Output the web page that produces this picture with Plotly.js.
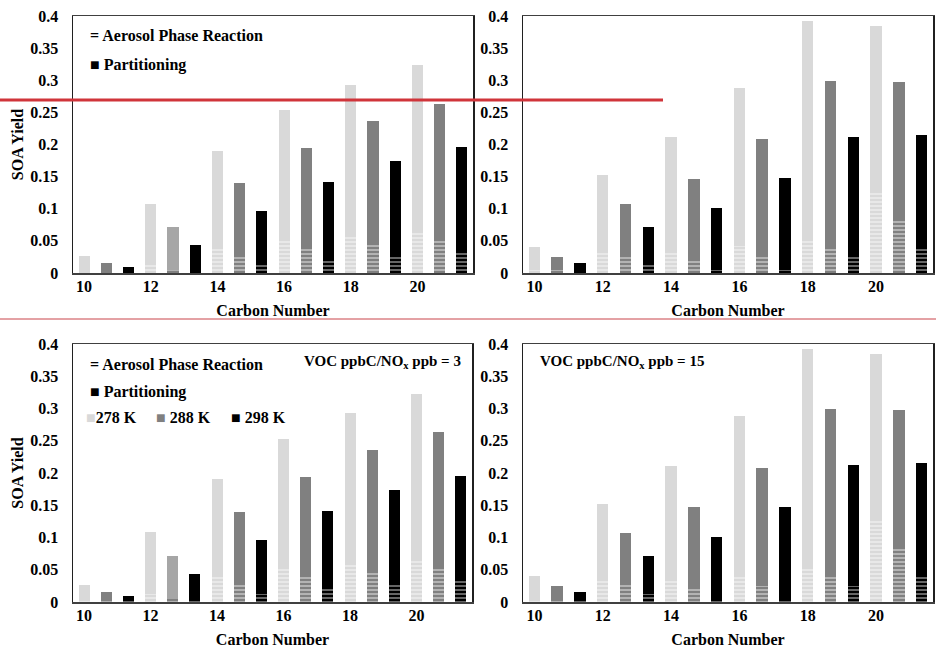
<!DOCTYPE html>
<html>
<head>
<meta charset="utf-8">
<script src="https://cdn.plot.ly/plotly-3.0.1.min.js"></script>
<style>html,body{margin:0;padding:0;background:#fff;}#chart{width:936px;height:649px;}</style>
</head>
<body>
<div id="chart"></div>
<script>
// ---- data ----
const carbonNumbers = [10, 12, 14, 16, 18, 20];
const temperatures = ['278 K', '288 K', '298 K'];
const yTickVals = [0, 0.05, 0.1, 0.15, 0.2, 0.25, 0.3, 0.35, 0.4];
const yTickText = ['0', '0.05', '0.1', '0.15', '0.2', '0.25', '0.3', '0.35', '0.4'];

// VOC ppbC/NOx ppb = 3 (left panels): total SOA yield and aerosol-phase-reaction part
const total3_278 = [0.027, 0.108, 0.190, 0.253, 0.293, 0.323];
const total3_288 = [0.016, 0.072, 0.140, 0.194, 0.236, 0.263];
const total3_298 = [0.009, 0.044, 0.096, 0.141, 0.174, 0.196];
const aero3_278 = [0.001, 0.012, 0.038, 0.052, 0.057, 0.064];
const aero3_288 = [0.002, 0.005, 0.026, 0.038, 0.045, 0.052];
const aero3_298 = [0.001, 0.001, 0.012, 0.020, 0.026, 0.033];

// VOC ppbC/NOx ppb = 15 (right panels)
const total15_278 = [0.040, 0.152, 0.211, 0.288, 0.392, 0.384];
const total15_288 = [0.025, 0.107, 0.147, 0.208, 0.299, 0.297];
const total15_298 = [0.015, 0.072, 0.101, 0.148, 0.212, 0.215];
const aero15_278 = [0.005, 0.032, 0.032, 0.042, 0.052, 0.128];
const aero15_288 = [0.004, 0.026, 0.020, 0.025, 0.038, 0.084];
const aero15_298 = [0.003, 0.012, 0.005, 0.004, 0.025, 0.038];

// ---- styling ----
const tempColors = ['#d9d9d9', '#808080', '#000000'];
const leftPart288Colors = ['#808080', '#a6a6a6', '#808080', '#808080', '#808080', '#808080'];
const FONT = 'Liberation Serif';
const W = 936, H = 649;
const px = v => v / W;
const py = v => 1 - v / H;

const panels = [
  {xa: 'x',  ya: 'y',  tot: [total3_278, total3_288, total3_298],  aero: [aero3_278, aero3_288, aero3_298],  left: true},
  {xa: 'x2', ya: 'y2', tot: [total15_278, total15_288, total15_298], aero: [aero15_278, aero15_288, aero15_298], left: false},
  {xa: 'x3', ya: 'y3', tot: [total3_278, total3_288, total3_298],  aero: [aero3_278, aero3_288, aero3_298],  left: true},
  {xa: 'x4', ya: 'y4', tot: [total15_278, total15_288, total15_298], aero: [aero15_278, aero15_288, aero15_298], left: false}
];

const traces = [];
panels.forEach(p => {
  temperatures.forEach((t, ti) => {
    const xs = carbonNumbers.map((c, ci) => ci * 3 + ti);
    const aero = p.aero[ti];
    const part = p.tot[ti].map((v, i) => +(v - aero[i]).toFixed(4));
    traces.push({
      type: 'bar', x: xs, y: aero, xaxis: p.xa, yaxis: p.ya, width: 0.5,
      name: t + ' Aerosol Phase Reaction', showlegend: false, hoverinfo: 'skip',
      marker: {color: tempColors[ti], line: {width: 0},
        pattern: {shape: '-', bgcolor: tempColors[ti], fgcolor: '#ffffff', size: 4, solidity: 0.4, fillmode: 'overlay'}}
    });
    const col = (p.left && ti === 1) ? leftPart288Colors : tempColors[ti];
    traces.push({
      type: 'bar', x: xs, y: part, xaxis: p.xa, yaxis: p.ya, width: 0.5,
      name: t + ' Partitioning', showlegend: false, hoverinfo: 'skip',
      marker: {color: col, line: {width: 0}}
    });
  });
});

const boldFont = {family: FONT, size: 16, color: '#000', weight: 'bold'};

function xAxis(x0, x1, anchor) {
  return {
    domain: [px(x0), px(x1)], anchor: anchor, range: [-0.5, 17.5],
    tickvals: carbonNumbers.map((c, i) => i * 3), ticktext: carbonNumbers.map(String),
    showgrid: false, zeroline: false, ticks: '', showline: true, mirror: true,
    linecolor: '#404040', linewidth: 1.5, automargin: false, ticklabelstandoff: -2,
    tickfont: boldFont,
    title: {text: 'Carbon Number', standoff: 11, font: boldFont}
  };
}
function yAxis(y0, y1, anchor, withTitle) {
  const ax = {
    domain: [py(y1), py(y0)], anchor: anchor, range: [0, 0.4],
    tickvals: yTickVals, ticktext: yTickText,
    showgrid: false, zeroline: false, ticks: '', showline: true, mirror: true,
    linecolor: '#202020', linewidth: 1.5, automargin: false, ticklabelstandoff: 10,
    tickfont: boldFont
  };
  if (withTitle) ax.title = {text: 'SOA Yield', standoff: 2, font: boldFont};
  return ax;
}

function ann(text, x, y, xanchor, size) {
  return {xref: 'paper', yref: 'paper', x: px(x), y: py(y), xanchor: xanchor || 'left', yanchor: 'middle',
    text: text, showarrow: false, font: Object.assign({}, boldFont, size ? {size: size} : {})};
}

const layout = {
  width: W, height: H, margin: {l: 0, r: 0, t: 0, b: 0},
  paper_bgcolor: '#ffffff', plot_bgcolor: '#ffffff',
  font: {family: FONT},
  barmode: 'stack', showlegend: false,
  xaxis: xAxis(73, 473, 'y'), yaxis: yAxis(16, 273, 'x', true),
  xaxis2: xAxis(523, 933, 'y2'), yaxis2: yAxis(16, 273, 'x2', false),
  xaxis3: xAxis(73, 472, 'y3'), yaxis3: yAxis(344, 602, 'x3', true),
  xaxis4: xAxis(523, 933, 'y4'), yaxis4: yAxis(344, 602, 'x4', false),
  annotations: [
    ann('= Aerosol Phase Reaction', 88, 36),
    ann('■ Partitioning', 88, 65),
    ann('= Aerosol Phase Reaction', 88, 364),
    ann('■ Partitioning', 88, 392),
    ann('<span style="color:#d9d9d9">■</span>278 K', 84, 418),
    ann('<span style="color:#808080">■</span> 288 K', 154, 418),
    ann('<span style="color:#000000">■</span> 298 K', 229, 418),
    ann('VOC ppbC/NO<sub>x</sub> ppb = 3', 463, 362, 'right', 15),
    ann('VOC ppbC/NO<sub>x</sub> ppb = 15', 538, 362, 'left', 15)
  ],
  shapes: [
    {type: 'line', xref: 'paper', yref: 'paper', x0: 0, x1: px(663), y0: py(100), y1: py(100),
      line: {color: '#d0343a', width: 3}, layer: 'above'},
    {type: 'line', xref: 'paper', yref: 'paper', x0: 0, x1: 1, y0: py(319), y1: py(319),
      line: {color: '#c9454b', width: 1}, layer: 'above'}
  ]
};

Plotly.newPlot('chart', traces, layout, {displayModeBar: false, staticPlot: true});
</script>
</body>
</html>
